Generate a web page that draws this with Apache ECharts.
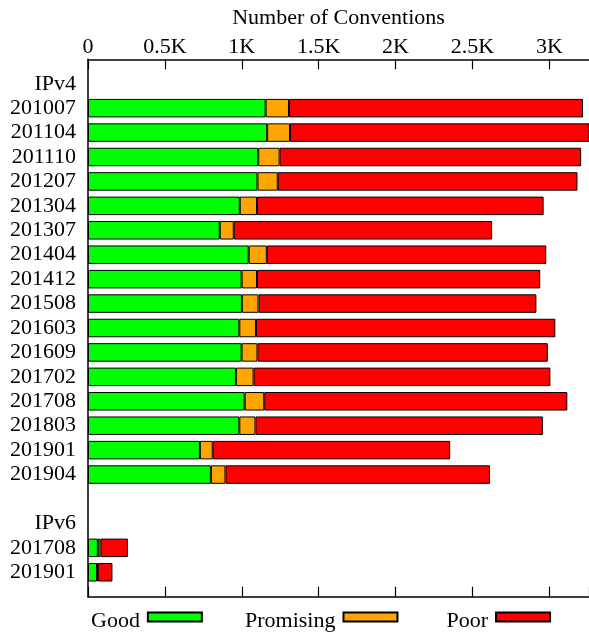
<!DOCTYPE html>
<html>
<head>
<meta charset="utf-8">
<script src="https://cdn.jsdelivr.net/npm/echarts@6/dist/echarts.min.js"></script>
<style>
html,body{margin:0;padding:0;background:#fff;}
#chart{width:589px;height:634px;}
</style>
</head>
<body>
<div id="chart"></div>
<script>
// Row labels, top to bottom ('' = spacer row)
const categories = ['', 'IPv4', '201007', '201104', '201110', '201207', '201304', '201307', '201404', '201412',
  '201508', '201603', '201609', '201702', '201708', '201803', '201901', '201904', '', 'IPv6', '201708', '201901', ''];
// Values per row (null = no bar)
const good =      [null, null, 1155, 1165, 1107, 1102, 987, 857, 1045, 999, 1001, 984, 999, 962, 1019, 984, 728, 799, null, null, 64, 59, null];
const promising = [null, null, 152, 149, 139, 132, 112, 91, 118, 100, 108, 108, 103, 115, 127, 105, 83, 95, null, null, 17, 5, null];
const poor =      [null, null, 1912, 1950, 1961, 1949, 1864, 1680, 1817, 1842, 1807, 1947, 1888, 1930, 1971, 1869, 1544, 1720, null, null, 178, 95, null];
const seriesNames = ['Good', 'Promising', 'Poor'];
const xTicks = [0, 500, 1000, 1500, 2000, 2500, 3000];
const xTickLabels = ['0', '0.5K', '1K', '1.5K', '2K', '2.5K', '3K'];

const FONT = 'Liberation Serif';
const keys = categories.map((c, i) => 'r' + i);
const chart = echarts.init(document.getElementById('chart'));
const fmtX = v => { const i = xTicks.indexOf(v); return i >= 0 ? xTickLabels[i] : ''; };

const colors = ['#00ff00', '#ffa500', '#ff0000'];
const datas = [good, promising, poor];
const legendLeft = [91, 245, 446.5];

chart.setOption({
  animation: false,
  grid: { left: 88, right: 0, top: 59.3, bottom: 37.3, containLabel: false },
  legend: seriesNames.map((n, k) => ({
    top: 610, left: legendLeft[k], padding: 0,
    align: 'right', icon: 'rect',
    itemWidth: 54, itemHeight: 9,
    formatter: name => '{t|' + name + '}',
    textStyle: { fontFamily: FONT, fontSize: 22, color: '#000',
      rich: { t: { fontFamily: FONT, fontSize: 22, color: '#000', padding: [8, 3, 0, 0] } } },
    data: [n]
  })),
  xAxis: [{
    type: 'value', position: 'top', min: 0, max: 3258, interval: 500,
    name: 'Number of Conventions', nameLocation: 'middle', nameGap: 30,
    nameTextStyle: { fontFamily: FONT, fontSize: 22, color: '#000' },
    axisLine: { show: true, lineStyle: { color: '#000', width: 1.5 } },
    axisTick: { show: true, inside: true, length: 10, lineStyle: { color: '#000', width: 1.2 } },
    axisLabel: { fontFamily: FONT, fontSize: 22, color: '#000', margin: 1, formatter: fmtX, showMaxLabel: false },
    splitLine: { show: false }
  }, {
    type: 'value', position: 'bottom', min: 0, max: 3258, interval: 500,
    axisLine: { show: true, lineStyle: { color: '#000', width: 1.5 } },
    axisTick: { show: true, inside: true, length: 10, lineStyle: { color: '#000', width: 1.2 } },
    axisLabel: { show: false },
    splitLine: { show: false }
  }],
  yAxis: {
    type: 'category', inverse: true, boundaryGap: false, data: keys,
    axisLine: { show: true, lineStyle: { color: '#000', width: 1.5 } },
    axisTick: { show: false },
    axisLabel: { fontFamily: FONT, fontSize: 22, color: '#000', margin: 12, interval: 0,
      formatter: (v, i) => categories[i] }
  },
  series: seriesNames.map((n, k) => ({
    name: n, type: 'bar', stack: 'total', xAxisIndex: 0,
    barWidth: 18.5,
    itemStyle: { color: colors[k], borderColor: '#000', borderWidth: 1 },
    data: datas[k]
  }))
});
</script>
</body>
</html>
